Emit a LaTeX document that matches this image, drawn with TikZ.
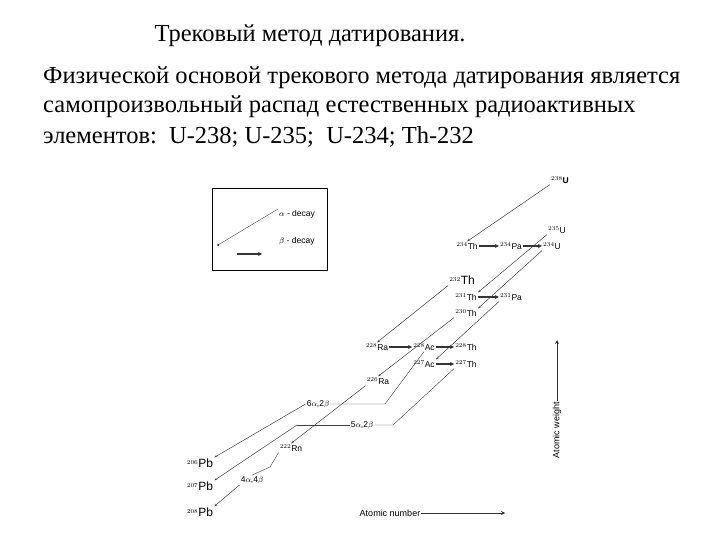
\documentclass[tikz,border=0pt]{standalone}
\usepackage{fontspec}
\setmainfont{Liberation Serif}
\newfontfamily\lab{Liberation Sans}
\usetikzlibrary{arrows.meta}
\begin{document}
\begin{tikzpicture}[x=1pt,y=-1pt,
 alpha/.style={draw=black!75,line width=0.5pt,-{Stealth[length=3pt,width=2pt]}},
 beta/.style={draw=black!80,line width=1.6pt,-{Stealth[length=4pt,width=4pt]}},
 el/.style={font=\lab\fontsize{8.5}{8.5}\selectfont,inner sep=1pt},
 tx/.style={font=\fontsize{24.5}{28}\selectfont,anchor=west,inner sep=0pt},
 dot/.style={circle,fill=black,inner sep=0.8pt}]
\useasboundingbox (0,0) rectangle (720,540);
\node (title) at (310,36) {\fontsize{24.5}{28}\selectfont Трековый метод датирования.};
\node[tx] (p1) at (43,78) {Физической основой трекового метода датирования является};
\node[tx] (p2) at (43,107) {самопроизвольный распад естественных радиоактивных};
\node[tx] (p3) at (43,137) {элементов:\ \ U-238; U-235;\ \ U-234; Th-232};
% legend
\node[draw,thick,minimum width=115pt,minimum height=82pt,anchor=north west] (leg) at (212,188) {};
\coordinate (la1) at (278,209); \coordinate (la2) at (218,245);
\draw[draw=black!75] (la1) -- (la2); \fill (la2) circle (1pt);
\node[el,anchor=west] (lal) at (278,214) {$\alpha$ - decay};
\node[el,anchor=west] (lbl) at (278,241) {$\beta$ - decay};
\coordinate (lb1) at (237,254); \coordinate (lb2) at (262,254);
\draw[beta] (lb1) -- (lb2);
% nuclides
\node[el] (U238) at (560,180) {$^{238}$\textbf{U}};
\node[el] (U235) at (557,230) {$^{235}$U};
\node[el] (Th234) at (467,246) {$^{234}$Th};
\node[el] (Pa234) at (511,246) {$^{234}$Pa};
\node[el] (U234) at (552,246) {$^{234}$U};
\node[el] (Th232) at (462,280) {$^{232}$\large Th};
\node[el] (Th231) at (466,297) {$^{231}$Th};
\node[el] (Pa231) at (511,297) {$^{231}$Pa};
\node[el] (Th230) at (466,313) {$^{230}$Th};
\node[el] (Ra228) at (377,347) {$^{228}$Ra};
\node[el] (Ac228) at (424,347) {$^{228}$Ac};
\node[el] (Th228) at (466,347) {$^{228}$Th};
\node[el] (Ac227) at (424,364) {$^{227}$Ac};
\node[el] (Th227) at (466,364) {$^{227}$Th};
\node[el] (Ra226) at (378,381) {$^{226}$Ra};
\node[el] (Rn222) at (291,448) {$^{222}$Rn};
\node[el] (Pb206) at (200,463) {$^{206}$\large Pb};
\node[el] (Pb207) at (200,486) {$^{207}$\large Pb};
\node[el] (Pb208) at (200,512) {$^{208}$\large Pb};
\node[el] (a62) at (318,404) {6$\alpha$,2$\beta$};
\node[el] (a52) at (362,425) {5$\alpha$,2$\beta$};
\node[el] (a44) at (252,480) {4$\alpha$,4$\beta$};
% beta
\draw[beta] (Th234) -- (Pa234);
\draw[beta] (Pa234) -- (U234);
\draw[beta] (Th231) -- (Pa231);
\draw[beta] (Ra228) -- (Ac228);
\draw[beta] (Ac228) -- (Th228);
\draw[beta] (Ac227) -- (Th227);
% alpha
\draw[alpha] (U238.south west) -- (Th234.north);
\draw[alpha] (U235.south west) -- (Th231.north east);
\draw[alpha] (U234.south west) -- (Th230.north east);
\draw[alpha] (Th232.south west) -- (Ra228.north);
\draw[alpha] (Pa231.south west) -- (Ac227.north east);
\draw[alpha] (Th230.south west) -- (Ra226.north);
\draw[alpha] (Ra226.south west) -- (Rn222.north);
\draw[draw=black!75] (Ac228.south) -- (385,404) -- (a62.east);
\draw[alpha] (a62.west) -- (Pb206.north east);
\draw[draw=black!75] (Th227.south west) -- (393,425) -- (a52.east);
\draw[draw=black!75] (a52.west) -- (297,425);
\draw[alpha] (297,425) -- (Pb207.north east);
\draw[draw=black!75] (Rn222.south west) -- (270,467) -- (a44.north);
\draw[alpha] (a44.south west) -- (Pb208.north east);
% axes
\node[el,font=\lab\fontsize{9}{9}\selectfont] (an) at (390,513) {Atomic number};
\coordinate (ane) at (505,513);
\draw[beta,line width=1pt] (an.east) -- (ane);
\node[el,font=\lab\fontsize{9}{9}\selectfont,rotate=90] (aw) at (557,430) {Atomic weight};
\coordinate (awe) at (557,340);
\draw[beta,line width=1pt] (aw.east) -- (awe);
\end{tikzpicture}
\end{document}
